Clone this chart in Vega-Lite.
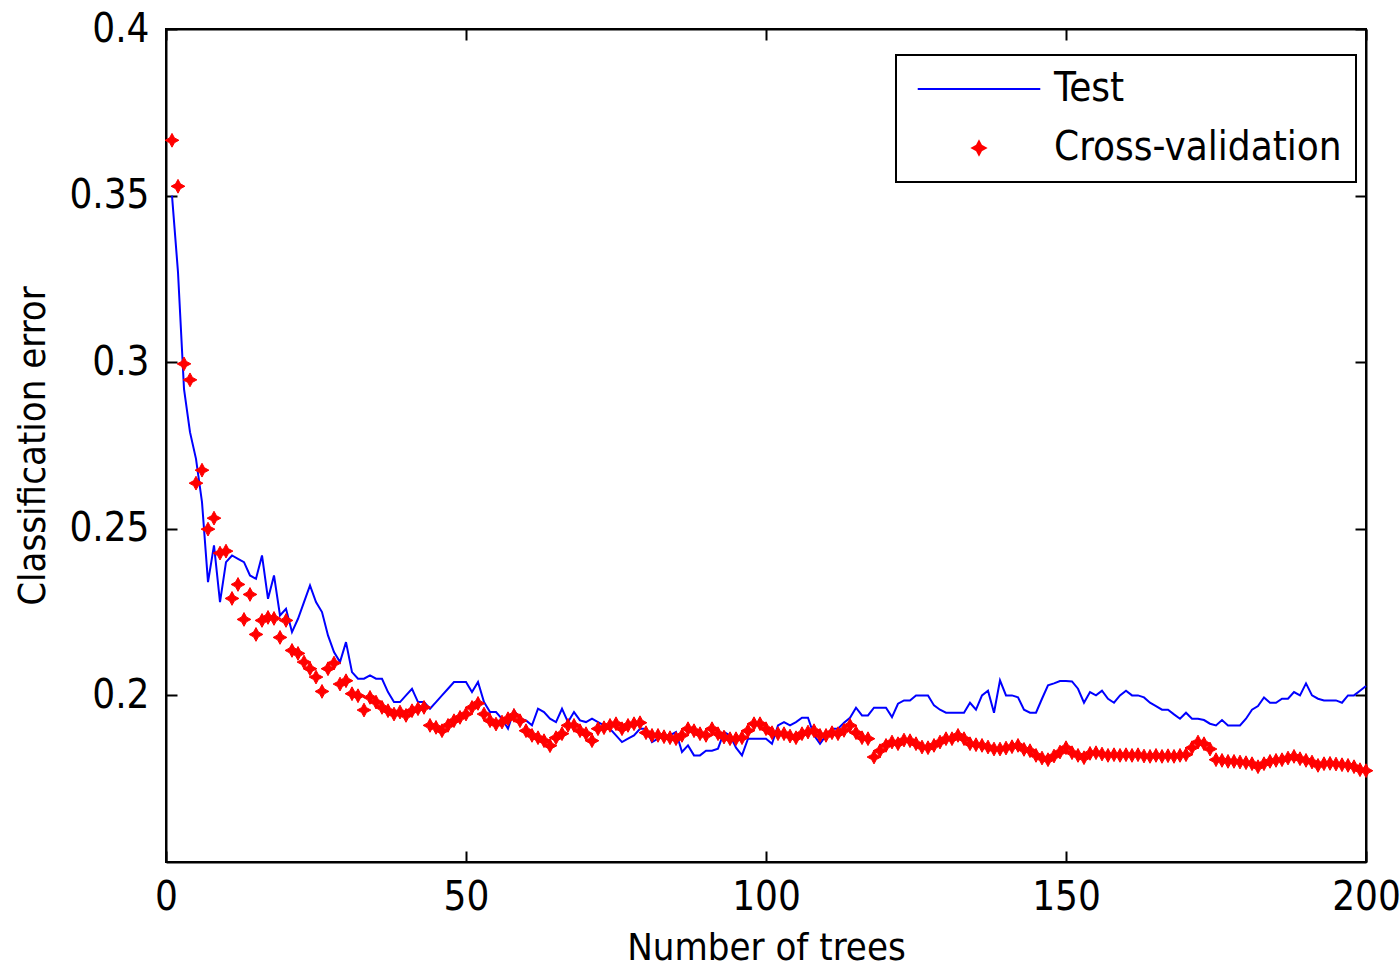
{
  "$schema": "https://vega.github.io/schema/vega-lite/v6.json",
  "width": 1200,
  "height": 833,
  "autosize": {"type": "none"},
  "padding": {"left": 166, "top": 29, "right": 34, "bottom": 106},
  "background": "white",
  "config": {
    "view": {"stroke": "black", "strokeWidth": 2},
    "font": "Liberation Sans Narrow, DejaVu Sans Condensed, Liberation Sans, sans-serif",
    "axis": {
      "domainColor": "black", "domainWidth": 2,
      "tickColor": "black", "tickWidth": 2, "tickSize": -11,
      "labelColor": "black", "labelFontSize": 40,
      "labelFont": "Liberation Sans Narrow, DejaVu Sans Condensed, Liberation Sans, sans-serif",
      "titleFont": "Liberation Sans Narrow, DejaVu Sans Condensed, Liberation Sans, sans-serif",
      "titleFontSize": 38, "titleFontWeight": "normal", "titleColor": "black",
      "grid": false, "labelFlush": false, "labelOverlap": false, "labelPadding": 26
    },
    "legend": {
      "orient": "none", "legendX": 730, "legendY": 26,
      "padding": 14, "strokeColor": "black", "strokeWidth": 2, "fillColor": "white",
      "labelFont": "Liberation Sans Narrow, DejaVu Sans Condensed, Liberation Sans, sans-serif",
      "labelFontSize": 40, "labelColor": "black", "labelLimit": 0,
      "labelOffset": 55, "symbolOffset": 49, "rowPadding": 19, "symbolSize": 170,
      "symbolStrokeWidth": 2, "symbolOpacity": 1
    }
  },
  "datasets": {
    "test": [
      {"trees":1,"error":0.350,"series":"Test"},{"trees":2,"error":0.327,"series":"Test"},{"trees":3,"error":0.292,"series":"Test"},{"trees":4,"error":0.279,"series":"Test"},{"trees":5,"error":0.271,"series":"Test"},
      {"trees":6,"error":0.258,"series":"Test"},{"trees":7,"error":0.234,"series":"Test"},{"trees":8,"error":0.245,"series":"Test"},{"trees":9,"error":0.228,"series":"Test"},{"trees":10,"error":0.240,"series":"Test"},
      {"trees":11,"error":0.242,"series":"Test"},{"trees":12,"error":0.241,"series":"Test"},{"trees":13,"error":0.240,"series":"Test"},{"trees":14,"error":0.236,"series":"Test"},{"trees":15,"error":0.235,"series":"Test"},
      {"trees":16,"error":0.242,"series":"Test"},{"trees":17,"error":0.229,"series":"Test"},{"trees":18,"error":0.236,"series":"Test"},{"trees":19,"error":0.224,"series":"Test"},{"trees":20,"error":0.226,"series":"Test"},
      {"trees":21,"error":0.219,"series":"Test"},{"trees":22,"error":0.223,"series":"Test"},{"trees":23,"error":0.228,"series":"Test"},{"trees":24,"error":0.233,"series":"Test"},{"trees":25,"error":0.228,"series":"Test"},
      {"trees":26,"error":0.225,"series":"Test"},{"trees":27,"error":0.218,"series":"Test"},{"trees":28,"error":0.213,"series":"Test"},{"trees":29,"error":0.210,"series":"Test"},{"trees":30,"error":0.216,"series":"Test"},
      {"trees":31,"error":0.207,"series":"Test"},{"trees":32,"error":0.205,"series":"Test"},{"trees":33,"error":0.205,"series":"Test"},{"trees":34,"error":0.206,"series":"Test"},{"trees":35,"error":0.205,"series":"Test"},
      {"trees":36,"error":0.205,"series":"Test"},{"trees":37,"error":0.201,"series":"Test"},{"trees":38,"error":0.198,"series":"Test"},{"trees":39,"error":0.198,"series":"Test"},{"trees":40,"error":0.200,"series":"Test"},
      {"trees":41,"error":0.202,"series":"Test"},{"trees":42,"error":0.198,"series":"Test"},{"trees":43,"error":0.198,"series":"Test"},{"trees":44,"error":0.196,"series":"Test"},{"trees":45,"error":0.198,"series":"Test"},
      {"trees":46,"error":0.200,"series":"Test"},{"trees":47,"error":0.202,"series":"Test"},{"trees":48,"error":0.204,"series":"Test"},{"trees":49,"error":0.204,"series":"Test"},{"trees":50,"error":0.204,"series":"Test"},
      {"trees":51,"error":0.201,"series":"Test"},{"trees":52,"error":0.204,"series":"Test"},{"trees":53,"error":0.198,"series":"Test"},{"trees":54,"error":0.195,"series":"Test"},{"trees":55,"error":0.195,"series":"Test"},
      {"trees":56,"error":0.193,"series":"Test"},{"trees":57,"error":0.190,"series":"Test"},{"trees":58,"error":0.1955,"series":"Test"},{"trees":59,"error":0.193,"series":"Test"},{"trees":60,"error":0.1925,"series":"Test"},
      {"trees":61,"error":0.191,"series":"Test"},{"trees":62,"error":0.196,"series":"Test"},{"trees":63,"error":0.195,"series":"Test"},{"trees":64,"error":0.193,"series":"Test"},{"trees":65,"error":0.192,"series":"Test"},
      {"trees":66,"error":0.196,"series":"Test"},{"trees":67,"error":0.192,"series":"Test"},{"trees":68,"error":0.195,"series":"Test"},{"trees":69,"error":0.1925,"series":"Test"},{"trees":70,"error":0.192,"series":"Test"},
      {"trees":71,"error":0.193,"series":"Test"},{"trees":72,"error":0.192,"series":"Test"},{"trees":73,"error":0.191,"series":"Test"},{"trees":74,"error":0.190,"series":"Test"},{"trees":75,"error":0.188,"series":"Test"},
      {"trees":76,"error":0.186,"series":"Test"},{"trees":77,"error":0.187,"series":"Test"},{"trees":78,"error":0.188,"series":"Test"},{"trees":79,"error":0.190,"series":"Test"},{"trees":80,"error":0.190,"series":"Test"},
      {"trees":81,"error":0.186,"series":"Test"},{"trees":82,"error":0.187,"series":"Test"},{"trees":83,"error":0.188,"series":"Test"},{"trees":84,"error":0.188,"series":"Test"},{"trees":85,"error":0.189,"series":"Test"},
      {"trees":86,"error":0.183,"series":"Test"},{"trees":87,"error":0.185,"series":"Test"},{"trees":88,"error":0.182,"series":"Test"},{"trees":89,"error":0.182,"series":"Test"},{"trees":90,"error":0.1834,"series":"Test"},
      {"trees":91,"error":0.1834,"series":"Test"},{"trees":92,"error":0.184,"series":"Test"},{"trees":93,"error":0.189,"series":"Test"},{"trees":94,"error":0.188,"series":"Test"},{"trees":95,"error":0.1843,"series":"Test"},
      {"trees":96,"error":0.182,"series":"Test"},{"trees":97,"error":0.187,"series":"Test"},{"trees":98,"error":0.187,"series":"Test"},{"trees":99,"error":0.187,"series":"Test"},{"trees":100,"error":0.187,"series":"Test"},
      {"trees":101,"error":0.1855,"series":"Test"},{"trees":102,"error":0.191,"series":"Test"},{"trees":103,"error":0.192,"series":"Test"},{"trees":104,"error":0.191,"series":"Test"},{"trees":105,"error":0.192,"series":"Test"},
      {"trees":106,"error":0.1933,"series":"Test"},{"trees":107,"error":0.1933,"series":"Test"},{"trees":108,"error":0.188,"series":"Test"},{"trees":109,"error":0.1855,"series":"Test"},{"trees":110,"error":0.188,"series":"Test"},
      {"trees":111,"error":0.190,"series":"Test"},{"trees":112,"error":0.190,"series":"Test"},{"trees":113,"error":0.1918,"series":"Test"},{"trees":114,"error":0.1933,"series":"Test"},{"trees":115,"error":0.1963,"series":"Test"},
      {"trees":116,"error":0.194,"series":"Test"},{"trees":117,"error":0.194,"series":"Test"},{"trees":118,"error":0.1963,"series":"Test"},{"trees":119,"error":0.1963,"series":"Test"},{"trees":120,"error":0.1963,"series":"Test"},
      {"trees":121,"error":0.1935,"series":"Test"},{"trees":122,"error":0.1975,"series":"Test"},{"trees":123,"error":0.1985,"series":"Test"},{"trees":124,"error":0.1985,"series":"Test"},{"trees":125,"error":0.200,"series":"Test"},
      {"trees":126,"error":0.200,"series":"Test"},{"trees":127,"error":0.200,"series":"Test"},{"trees":128,"error":0.197,"series":"Test"},{"trees":129,"error":0.1957,"series":"Test"},{"trees":130,"error":0.1948,"series":"Test"},
      {"trees":131,"error":0.1948,"series":"Test"},{"trees":132,"error":0.1948,"series":"Test"},{"trees":133,"error":0.1948,"series":"Test"},{"trees":134,"error":0.1978,"series":"Test"},{"trees":135,"error":0.1957,"series":"Test"},
      {"trees":136,"error":0.200,"series":"Test"},{"trees":137,"error":0.2014,"series":"Test"},{"trees":138,"error":0.1948,"series":"Test"},{"trees":139,"error":0.2045,"series":"Test"},{"trees":140,"error":0.200,"series":"Test"},
      {"trees":141,"error":0.200,"series":"Test"},{"trees":142,"error":0.1994,"series":"Test"},{"trees":143,"error":0.1957,"series":"Test"},{"trees":144,"error":0.1948,"series":"Test"},{"trees":145,"error":0.1948,"series":"Test"},
      {"trees":146,"error":0.199,"series":"Test"},{"trees":147,"error":0.203,"series":"Test"},{"trees":148,"error":0.2036,"series":"Test"},{"trees":149,"error":0.2043,"series":"Test"},{"trees":150,"error":0.2043,"series":"Test"},
      {"trees":151,"error":0.2042,"series":"Test"},{"trees":152,"error":0.202,"series":"Test"},{"trees":153,"error":0.1978,"series":"Test"},{"trees":154,"error":0.201,"series":"Test"},{"trees":155,"error":0.200,"series":"Test"},
      {"trees":156,"error":0.2014,"series":"Test"},{"trees":157,"error":0.199,"series":"Test"},{"trees":158,"error":0.1978,"series":"Test"},{"trees":159,"error":0.200,"series":"Test"},{"trees":160,"error":0.2014,"series":"Test"},
      {"trees":161,"error":0.200,"series":"Test"},{"trees":162,"error":0.200,"series":"Test"},{"trees":163,"error":0.1994,"series":"Test"},{"trees":164,"error":0.1978,"series":"Test"},{"trees":165,"error":0.1968,"series":"Test"},
      {"trees":166,"error":0.1957,"series":"Test"},{"trees":167,"error":0.1957,"series":"Test"},{"trees":168,"error":0.1943,"series":"Test"},{"trees":169,"error":0.193,"series":"Test"},{"trees":170,"error":0.1948,"series":"Test"},
      {"trees":171,"error":0.193,"series":"Test"},{"trees":172,"error":0.193,"series":"Test"},{"trees":173,"error":0.1926,"series":"Test"},{"trees":174,"error":0.1915,"series":"Test"},{"trees":175,"error":0.191,"series":"Test"},
      {"trees":176,"error":0.1926,"series":"Test"},{"trees":177,"error":0.191,"series":"Test"},{"trees":178,"error":0.191,"series":"Test"},{"trees":179,"error":0.191,"series":"Test"},{"trees":180,"error":0.193,"series":"Test"},
      {"trees":181,"error":0.1957,"series":"Test"},{"trees":182,"error":0.1968,"series":"Test"},{"trees":183,"error":0.1994,"series":"Test"},{"trees":184,"error":0.1978,"series":"Test"},{"trees":185,"error":0.1978,"series":"Test"},
      {"trees":186,"error":0.199,"series":"Test"},{"trees":187,"error":0.199,"series":"Test"},{"trees":188,"error":0.201,"series":"Test"},{"trees":189,"error":0.200,"series":"Test"},{"trees":190,"error":0.2036,"series":"Test"},
      {"trees":191,"error":0.200,"series":"Test"},{"trees":192,"error":0.199,"series":"Test"},{"trees":193,"error":0.1985,"series":"Test"},{"trees":194,"error":0.1985,"series":"Test"},{"trees":195,"error":0.1985,"series":"Test"},
      {"trees":196,"error":0.1978,"series":"Test"},{"trees":197,"error":0.200,"series":"Test"},{"trees":198,"error":0.200,"series":"Test"},{"trees":199,"error":0.2014,"series":"Test"},{"trees":200,"error":0.2028,"series":"Test"}
    ],
    "cv": [
      {"trees":1,"error":0.3666,"series":"Cross-validation"},{"trees":2,"error":0.3528,"series":"Cross-validation"},{"trees":3,"error":0.2995,"series":"Cross-validation"},{"trees":4,"error":0.2947,"series":"Cross-validation"},{"trees":5,"error":0.2637,"series":"Cross-validation"},
      {"trees":6,"error":0.2676,"series":"Cross-validation"},{"trees":7,"error":0.2499,"series":"Cross-validation"},{"trees":8,"error":0.2532,"series":"Cross-validation"},{"trees":9,"error":0.2427,"series":"Cross-validation"},{"trees":10,"error":0.2433,"series":"Cross-validation"},
      {"trees":11,"error":0.2291,"series":"Cross-validation"},{"trees":12,"error":0.2333,"series":"Cross-validation"},{"trees":13,"error":0.2228,"series":"Cross-validation"},{"trees":14,"error":0.2303,"series":"Cross-validation"},{"trees":15,"error":0.2183,"series":"Cross-validation"},
      {"trees":16,"error":0.2225,"series":"Cross-validation"},{"trees":17,"error":0.2234,"series":"Cross-validation"},{"trees":18,"error":0.2231,"series":"Cross-validation"},{"trees":19,"error":0.2174,"series":"Cross-validation"},{"trees":20,"error":0.2225,"series":"Cross-validation"},
      {"trees":21,"error":0.2135,"series":"Cross-validation"},{"trees":22,"error":0.2126,"series":"Cross-validation"},{"trees":23,"error":0.2100,"series":"Cross-validation"},{"trees":24,"error":0.2080,"series":"Cross-validation"},{"trees":25,"error":0.2055,"series":"Cross-validation"},
      {"trees":26,"error":0.2012,"series":"Cross-validation"},{"trees":27,"error":0.2080,"series":"Cross-validation"},{"trees":28,"error":0.2097,"series":"Cross-validation"},{"trees":29,"error":0.2034,"series":"Cross-validation"},{"trees":30,"error":0.2044,"series":"Cross-validation"},
      {"trees":31,"error":0.2005,"series":"Cross-validation"},{"trees":32,"error":0.1999,"series":"Cross-validation"},{"trees":33,"error":0.1956,"series":"Cross-validation"},{"trees":34,"error":0.1994,"series":"Cross-validation"},{"trees":35,"error":0.1980,"series":"Cross-validation"},
      {"trees":36,"error":0.1964,"series":"Cross-validation"},{"trees":37,"error":0.1954,"series":"Cross-validation"},{"trees":38,"error":0.1944,"series":"Cross-validation"},{"trees":39,"error":0.1950,"series":"Cross-validation"},{"trees":40,"error":0.1940,"series":"Cross-validation"},
      {"trees":41,"error":0.1954,"series":"Cross-validation"},{"trees":42,"error":0.1960,"series":"Cross-validation"},{"trees":43,"error":0.1964,"series":"Cross-validation"},{"trees":44,"error":0.1910,"series":"Cross-validation"},{"trees":45,"error":0.1904,"series":"Cross-validation"},
      {"trees":46,"error":0.1894,"series":"Cross-validation"},{"trees":47,"error":0.1910,"series":"Cross-validation"},{"trees":48,"error":0.1924,"series":"Cross-validation"},{"trees":49,"error":0.1934,"series":"Cross-validation"},{"trees":50,"error":0.1944,"series":"Cross-validation"},
      {"trees":51,"error":0.1964,"series":"Cross-validation"},{"trees":52,"error":0.1976,"series":"Cross-validation"},{"trees":53,"error":0.1944,"series":"Cross-validation"},{"trees":54,"error":0.1924,"series":"Cross-validation"},{"trees":55,"error":0.1914,"series":"Cross-validation"},
      {"trees":56,"error":0.1920,"series":"Cross-validation"},{"trees":57,"error":0.1930,"series":"Cross-validation"},{"trees":58,"error":0.1940,"series":"Cross-validation"},{"trees":59,"error":0.1924,"series":"Cross-validation"},{"trees":60,"error":0.1894,"series":"Cross-validation"},
      {"trees":61,"error":0.1880,"series":"Cross-validation"},{"trees":62,"error":0.1873,"series":"Cross-validation"},{"trees":63,"error":0.1864,"series":"Cross-validation"},{"trees":64,"error":0.1849,"series":"Cross-validation"},{"trees":65,"error":0.1873,"series":"Cross-validation"},
      {"trees":66,"error":0.1885,"series":"Cross-validation"},{"trees":67,"error":0.1910,"series":"Cross-validation"},{"trees":68,"error":0.1910,"series":"Cross-validation"},{"trees":69,"error":0.1894,"series":"Cross-validation"},{"trees":70,"error":0.1885,"series":"Cross-validation"},
      {"trees":71,"error":0.1864,"series":"Cross-validation"},{"trees":72,"error":0.1900,"series":"Cross-validation"},{"trees":73,"error":0.1903,"series":"Cross-validation"},{"trees":74,"error":0.1910,"series":"Cross-validation"},{"trees":75,"error":0.1915,"series":"Cross-validation"},
      {"trees":76,"error":0.1900,"series":"Cross-validation"},{"trees":77,"error":0.1910,"series":"Cross-validation"},{"trees":78,"error":0.1915,"series":"Cross-validation"},{"trees":79,"error":0.1918,"series":"Cross-validation"},{"trees":80,"error":0.1888,"series":"Cross-validation"},
      {"trees":81,"error":0.1880,"series":"Cross-validation"},{"trees":82,"error":0.1880,"series":"Cross-validation"},{"trees":83,"error":0.1876,"series":"Cross-validation"},{"trees":84,"error":0.1873,"series":"Cross-validation"},{"trees":85,"error":0.1870,"series":"Cross-validation"},
      {"trees":86,"error":0.1880,"series":"Cross-validation"},{"trees":87,"error":0.1900,"series":"Cross-validation"},{"trees":88,"error":0.1894,"series":"Cross-validation"},{"trees":89,"error":0.1885,"series":"Cross-validation"},{"trees":90,"error":0.1880,"series":"Cross-validation"},
      {"trees":91,"error":0.1900,"series":"Cross-validation"},{"trees":92,"error":0.1885,"series":"Cross-validation"},{"trees":93,"error":0.1875,"series":"Cross-validation"},{"trees":94,"error":0.1870,"series":"Cross-validation"},{"trees":95,"error":0.1870,"series":"Cross-validation"},
      {"trees":96,"error":0.1873,"series":"Cross-validation"},{"trees":97,"error":0.1894,"series":"Cross-validation"},{"trees":98,"error":0.1915,"series":"Cross-validation"},{"trees":99,"error":0.1915,"series":"Cross-validation"},{"trees":100,"error":0.1900,"series":"Cross-validation"},
      {"trees":101,"error":0.1888,"series":"Cross-validation"},{"trees":102,"error":0.1885,"series":"Cross-validation"},{"trees":103,"error":0.1885,"series":"Cross-validation"},{"trees":104,"error":0.1878,"series":"Cross-validation"},{"trees":105,"error":0.1873,"series":"Cross-validation"},
      {"trees":106,"error":0.1885,"series":"Cross-validation"},{"trees":107,"error":0.1890,"series":"Cross-validation"},{"trees":108,"error":0.1894,"series":"Cross-validation"},{"trees":109,"error":0.1880,"series":"Cross-validation"},{"trees":110,"error":0.1880,"series":"Cross-validation"},
      {"trees":111,"error":0.1888,"series":"Cross-validation"},{"trees":112,"error":0.1885,"series":"Cross-validation"},{"trees":113,"error":0.1895,"series":"Cross-validation"},{"trees":114,"error":0.1910,"series":"Cross-validation"},{"trees":115,"error":0.1888,"series":"Cross-validation"},
      {"trees":116,"error":0.1873,"series":"Cross-validation"},{"trees":117,"error":0.1870,"series":"Cross-validation"},{"trees":118,"error":0.1815,"series":"Cross-validation"},{"trees":119,"error":0.1834,"series":"Cross-validation"},{"trees":120,"error":0.1850,"series":"Cross-validation"},
      {"trees":121,"error":0.1860,"series":"Cross-validation"},{"trees":122,"error":0.1855,"series":"Cross-validation"},{"trees":123,"error":0.1866,"series":"Cross-validation"},{"trees":124,"error":0.1864,"series":"Cross-validation"},{"trees":125,"error":0.1855,"series":"Cross-validation"},
      {"trees":126,"error":0.1845,"series":"Cross-validation"},{"trees":127,"error":0.1843,"series":"Cross-validation"},{"trees":128,"error":0.1850,"series":"Cross-validation"},{"trees":129,"error":0.1860,"series":"Cross-validation"},{"trees":130,"error":0.1870,"series":"Cross-validation"},
      {"trees":131,"error":0.1870,"series":"Cross-validation"},{"trees":132,"error":0.1880,"series":"Cross-validation"},{"trees":133,"error":0.1870,"series":"Cross-validation"},{"trees":134,"error":0.1855,"series":"Cross-validation"},{"trees":135,"error":0.1852,"series":"Cross-validation"},
      {"trees":136,"error":0.1850,"series":"Cross-validation"},{"trees":137,"error":0.1845,"series":"Cross-validation"},{"trees":138,"error":0.1839,"series":"Cross-validation"},{"trees":139,"error":0.1839,"series":"Cross-validation"},{"trees":140,"error":0.1842,"series":"Cross-validation"},
      {"trees":141,"error":0.1846,"series":"Cross-validation"},{"trees":142,"error":0.1850,"series":"Cross-validation"},{"trees":143,"error":0.1838,"series":"Cross-validation"},{"trees":144,"error":0.1834,"series":"Cross-validation"},{"trees":145,"error":0.1820,"series":"Cross-validation"},
      {"trees":146,"error":0.1812,"series":"Cross-validation"},{"trees":147,"error":0.1807,"series":"Cross-validation"},{"trees":148,"error":0.1818,"series":"Cross-validation"},{"trees":149,"error":0.1830,"series":"Cross-validation"},{"trees":150,"error":0.1843,"series":"Cross-validation"},
      {"trees":151,"error":0.1828,"series":"Cross-validation"},{"trees":152,"error":0.1820,"series":"Cross-validation"},{"trees":153,"error":0.1813,"series":"Cross-validation"},{"trees":154,"error":0.1826,"series":"Cross-validation"},{"trees":155,"error":0.1828,"series":"Cross-validation"},
      {"trees":156,"error":0.1824,"series":"Cross-validation"},{"trees":157,"error":0.1820,"series":"Cross-validation"},{"trees":158,"error":0.1822,"series":"Cross-validation"},{"trees":159,"error":0.1820,"series":"Cross-validation"},{"trees":160,"error":0.1822,"series":"Cross-validation"},
      {"trees":161,"error":0.1820,"series":"Cross-validation"},{"trees":162,"error":0.1822,"series":"Cross-validation"},{"trees":163,"error":0.1818,"series":"Cross-validation"},{"trees":164,"error":0.1817,"series":"Cross-validation"},{"trees":165,"error":0.1820,"series":"Cross-validation"},
      {"trees":166,"error":0.1817,"series":"Cross-validation"},{"trees":167,"error":0.1819,"series":"Cross-validation"},{"trees":168,"error":0.1817,"series":"Cross-validation"},{"trees":169,"error":0.1820,"series":"Cross-validation"},{"trees":170,"error":0.1822,"series":"Cross-validation"},
      {"trees":171,"error":0.1843,"series":"Cross-validation"},{"trees":172,"error":0.1860,"series":"Cross-validation"},{"trees":173,"error":0.1855,"series":"Cross-validation"},{"trees":174,"error":0.1839,"series":"Cross-validation"},{"trees":175,"error":0.1807,"series":"Cross-validation"},
      {"trees":176,"error":0.1805,"series":"Cross-validation"},{"trees":177,"error":0.1802,"series":"Cross-validation"},{"trees":178,"error":0.1802,"series":"Cross-validation"},{"trees":179,"error":0.1800,"series":"Cross-validation"},{"trees":180,"error":0.1798,"series":"Cross-validation"},
      {"trees":181,"error":0.1795,"series":"Cross-validation"},{"trees":182,"error":0.1786,"series":"Cross-validation"},{"trees":183,"error":0.1795,"series":"Cross-validation"},{"trees":184,"error":0.1802,"series":"Cross-validation"},{"trees":185,"error":0.1805,"series":"Cross-validation"},
      {"trees":186,"error":0.1807,"series":"Cross-validation"},{"trees":187,"error":0.1812,"series":"Cross-validation"},{"trees":188,"error":0.1817,"series":"Cross-validation"},{"trees":189,"error":0.1810,"series":"Cross-validation"},{"trees":190,"error":0.1805,"series":"Cross-validation"},
      {"trees":191,"error":0.1800,"series":"Cross-validation"},{"trees":192,"error":0.1790,"series":"Cross-validation"},{"trees":193,"error":0.1795,"series":"Cross-validation"},{"trees":194,"error":0.1796,"series":"Cross-validation"},{"trees":195,"error":0.1794,"series":"Cross-validation"},
      {"trees":196,"error":0.1792,"series":"Cross-validation"},{"trees":197,"error":0.1790,"series":"Cross-validation"},{"trees":198,"error":0.1786,"series":"Cross-validation"},{"trees":199,"error":0.1777,"series":"Cross-validation"},{"trees":200,"error":0.1774,"series":"Cross-validation"}
    ]
  },
  "layer": [
    {
      "data": {"name": "test"},
      "mark": {"type": "line", "strokeWidth": 2},
      "encoding": {
        "x": {"field": "trees", "type": "quantitative",
              "scale": {"domain": [0, 200], "nice": false, "zero": false},
              "axis": {"orient": "bottom", "values": [0, 50, 100, 150, 200], "title": "Number of trees", "titlePadding": 12}},
        "y": {"field": "error", "type": "quantitative",
              "scale": {"domain": [0.15, 0.4], "nice": false, "zero": false},
              "axis": {"orient": "left", "values": [0.2, 0.25, 0.3, 0.35, 0.4], "format": "~g", "labelPadding": 28, "title": "Classification error", "titlePadding": 16}},
        "color": {"field": "series", "type": "nominal",
                  "scale": {"domain": ["Test", "Cross-validation"], "range": ["#0000ff", "#ff0000"]},
                  "legend": {"title": null}}
      }
    },
    {
      "data": {"name": "cv"},
      "mark": {"type": "point", "filled": true, "opacity": 1, "size": 190, "strokeWidth": 1},
      "encoding": {
        "x": {"field": "trees", "type": "quantitative",
              "scale": {"domain": [0, 200], "nice": false, "zero": false},
              "axis": {"orient": "top", "values": [0, 50, 100, 150, 200], "labels": false, "title": null}},
        "y": {"field": "error", "type": "quantitative",
              "scale": {"domain": [0.15, 0.4], "nice": false, "zero": false},
              "axis": {"orient": "right", "values": [0.2, 0.25, 0.3, 0.35, 0.4], "labels": false, "title": null}},
        "color": {"field": "series", "type": "nominal",
                  "scale": {"domain": ["Test", "Cross-validation"], "range": ["#0000ff", "#ff0000"]},
                  "legend": {"title": null}},
        "stroke": {"field": "series", "type": "nominal",
                  "scale": {"domain": ["Test", "Cross-validation"], "range": ["#0000ff", "#ff0000"]},
                  "legend": {"title": null}},
        "shape": {"field": "series", "type": "nominal",
                  "scale": {"domain": ["Test", "Cross-validation"],
                            "range": ["M-9.4,0L9.4,0", "M0,-1L0.35,-0.35L1,0L0.35,0.35L0,1L-0.35,0.35L-1,0L-0.35,-0.35Z"]},
                  "legend": {"title": null}}
      }
    }
  ],
  "resolve": {"axis": {"x": "independent", "y": "independent"}}
}
